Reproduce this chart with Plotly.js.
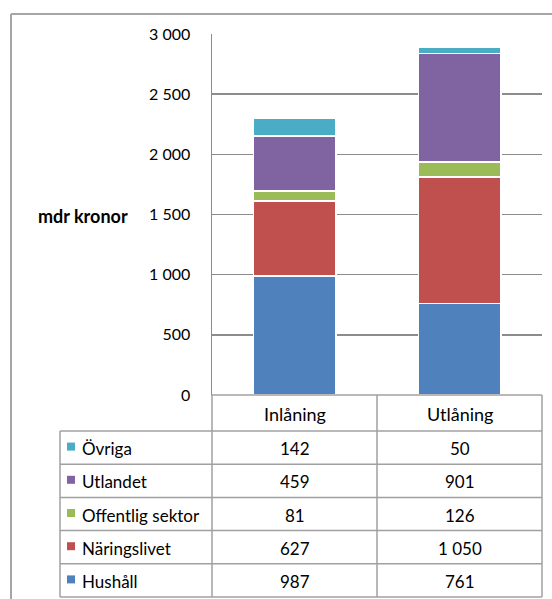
<!DOCTYPE html>
<html>
<head>
<meta charset="utf-8">
<script src="https://cdn.plot.ly/plotly-3.0.1.min.js"></script>
<style>html,body{margin:0;padding:0;background:#fff;}#chart{width:552px;height:599px;}</style>
</head>
<body>
<div id="chart"></div>
<script>
// ---- data ----
const categories = ["Inlåning", "Utlåning"];
const seriesNames = ["Hushåll", "Näringslivet", "Offentlig sektor", "Utlandet", "Övriga"];
const hushall = [987, 761];
const naringslivet = [627, 1050];
const offentlig = [81, 126];
const utlandet = [459, 901];
const ovriga = [142, 50];
const yTickVals = [0, 500, 1000, 1500, 2000, 2500, 3000];
const yTitle = "mdr kronor";

const seriesValues = [hushall, naringslivet, offentlig, utlandet, ovriga];
const colors = ["#4F81BD", "#C0504D", "#9BBB59", "#8064A2", "#4BACC6"];

// ---- geometry (pixels) ----
const W = 552, H = 599;
const L = 212, R = 542, T = 34, B = 395;
const px = x => (x - L) / (R - L);
const py = y => (B - y) / (B - T);
const tableLeft = 60, col1 = 212, col2 = 377, tableRight = 542;
const headTop = 395, headBot = 431, rowH = 33.2;
const lineCol = "#a0a0a0";
const fontFam = "Lato, 'Liberation Sans', sans-serif";
const FS = 17;

function fmt(v) {
  return String(v).replace(/\B(?=(\d{3})+(?!\d))/g, " ");
}

const traces = seriesNames.map((name, i) => ({
  type: "bar",
  name: name,
  x: categories,
  y: seriesValues[i],
  marker: { color: colors[i], line: { color: "#ffffff", width: 1.5 } },
  width: 0.5,
  hoverinfo: "skip"
}));

const shapes = [];
const annotations = [];
function hline(x0, x1, y, color, w) {
  shapes.push({ type: "line", xref: "paper", yref: "paper", x0: px(x0), x1: px(x1), y0: py(y), y1: py(y), line: { color: color || lineCol, width: w || 1.5 } });
}
function vline(x, y0, y1, color, w) {
  shapes.push({ type: "line", xref: "paper", yref: "paper", x0: px(x), x1: px(x), y0: py(y0), y1: py(y1), line: { color: color || lineCol, width: w || 1.5 } });
}

// outer border
hline(11, 560, 14, "#a6a6a6", 2);
vline(11, 14, 610, "#a6a6a6", 2);

// header row
hline(col1, tableRight, headTop);
hline(tableLeft, tableRight, headBot);
vline(col1, headTop, headBot + rowH * 5);
vline(col2, headTop, headBot + rowH * 5);
vline(tableRight, headTop, headBot + rowH * 5);
vline(tableLeft, headBot, headBot + rowH * 5);
const colCenters = [(col1 + col2) / 2, (col2 + tableRight) / 2];
categories.forEach((c, j) => {
  annotations.push({ xref: "paper", yref: "paper", x: px(colCenters[j]), y: py((headTop + headBot) / 2 + 1), text: c, showarrow: false, xanchor: "center", yanchor: "middle", font: { family: fontFam, size: 18, color: "#000" } });
});

// data rows, top to bottom = reverse of stacking order
for (let r = 0; r < seriesNames.length; r++) {
  const si = seriesNames.length - 1 - r;
  const y0 = headBot + r * rowH, y1 = y0 + rowH;
  const yc = (y0 + y1) / 2;
  hline(tableLeft, tableRight, y1);
  shapes.push({ type: "rect", xref: "paper", yref: "paper", x0: px(67), x1: px(75), y0: py(yc - 5), y1: py(yc + 3), fillcolor: colors[si], line: { width: 0 } });
  annotations.push({ xref: "paper", yref: "paper", x: px(80), y: py(yc + 1), text: seriesNames[si], showarrow: false, xanchor: "left", yanchor: "middle", font: { family: fontFam, size: FS, color: "#000" } });
  categories.forEach((c, j) => {
    annotations.push({ xref: "paper", yref: "paper", x: px(colCenters[j]), y: py(yc + 1), text: fmt(seriesValues[si][j]), showarrow: false, xanchor: "center", yanchor: "middle", font: { family: fontFam, size: FS, color: "#000" } });
  });
}

// y title
annotations.push({ xref: "paper", yref: "paper", x: px(83), y: py(216), text: "<b>" + yTitle + "</b>", showarrow: false, xanchor: "center", yanchor: "middle", font: { family: fontFam, size: 18, color: "#000" } });

const layout = {
  width: W, height: H,
  margin: { l: L, r: W - R, t: T, b: H - B, pad: 0 },
  paper_bgcolor: "#ffffff",
  plot_bgcolor: "#ffffff",
  barmode: "stack",
  showlegend: false,
  separators: ", ",
  font: { family: fontFam, size: FS, color: "#000" },
  xaxis: { type: "category", range: [-0.5, 1.5], showticklabels: false, showgrid: false, zeroline: false, showline: false, ticks: "", fixedrange: true },
  yaxis: {
    range: [0, 3000], tickvals: yTickVals, ticktext: yTickVals.map(fmt),
    showgrid: true, gridcolor: "#8c8c8c", gridwidth: 1.5,
    zeroline: false, showline: true, linecolor: "#8c8c8c", linewidth: 1.5,
    ticks: "", ticklabelstandoff: 17, tickfont: { family: fontFam, size: 16, color: "#000" }, fixedrange: true
  },
  shapes: shapes,
  annotations: annotations
};

Plotly.newPlot("chart", traces, layout, { displayModeBar: false, staticPlot: true });
</script>
</body>
</html>
